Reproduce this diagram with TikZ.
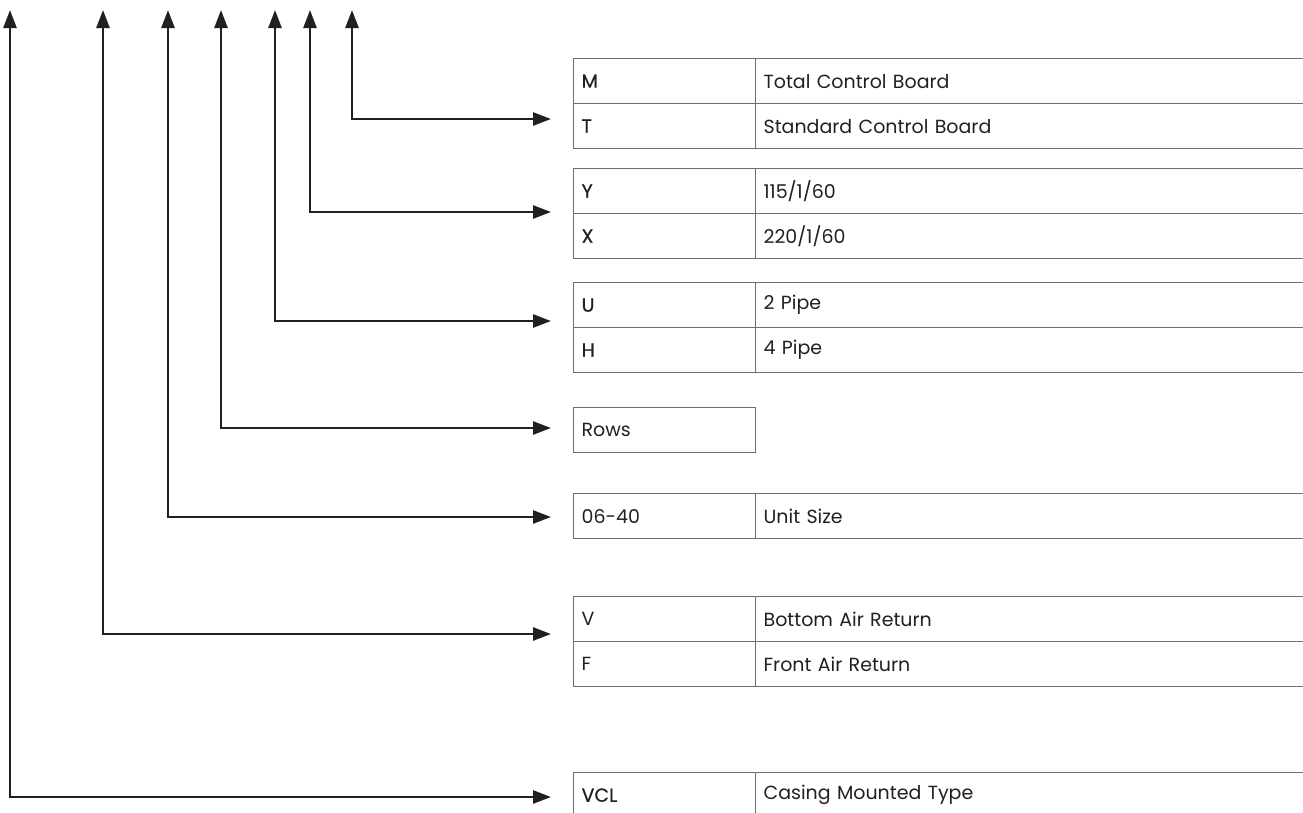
\documentclass[tikz,border=0pt]{standalone}
\usepackage{fontspec}
\setmainfont{Poppins}
\newfontfamily\medfont{Poppins}[FakeBold=0.6]
\usetikzlibrary{arrows.meta}
\definecolor{ink}{HTML}{231F20}
\definecolor{rule}{HTML}{6D6E71}
\begin{document}
\begin{tikzpicture}[x=1pt,y=-1pt,
  cell/.style={draw=rule, line width=1.2pt, anchor=north west, minimum height=45pt,
    inner xsep=8pt, inner ysep=0pt, align=left, text=ink,
    font=\fontsize{19}{22}\selectfont},
  lcell/.style={cell, text width=166pt, minimum width=182pt},
  rcell/.style={cell, text width=539pt, minimum width=555pt},
  conn/.style={draw=ink, line width=2.6pt,
    {Triangle[length=18pt,width=13pt]}-{Triangle[length=18pt,width=13pt]}}
]
\useasboundingbox (0,0) rectangle (1303,812);
% table 1
\node[lcell] (m)  at (573,58)  {\medfont M};
\node[rcell] (mt) at (755,58)  {Total Control Board};
\node[lcell] (t)  at (573,103) {\medfont T};
\node[rcell] (tt) at (755,103) {Standard Control Board};
% table 2
\node[lcell] (y)  at (573,168) {\medfont Y};
\node[rcell] (yt) at (755,168) {115/1/60};
\node[lcell] (x)  at (573,213) {\medfont X};
\node[rcell] (xt) at (755,213) {220/1/60};
% table 3
\node[lcell] (u)  at (573,282) {\medfont U};
\node[rcell] (ut) at (755,282) {2 Pipe};
\node[lcell] (h)  at (573,327) {\medfont H};
\node[rcell] (ht) at (755,327) {4 Pipe};
% rows
\node[lcell] (rows) at (573,407) {Rows};
% unit size
\node[lcell] (sz)  at (573,493) {06-40};
\node[rcell] (szt) at (755,493) {Unit Size};
% air return
\node[lcell] (v)  at (573,596) {V};
\node[rcell] (vt) at (755,596) {Bottom Air Return};
\node[lcell] (f)  at (573,641) {F};
\node[rcell] (ft) at (755,641) {Front Air Return};
% VCL
\node[lcell] (vcl)  at (573,772) {\medfont VCL};
\node[rcell] (vclt) at (755,772) {Casing Mounted Type};
% connectors
\coordinate (u1) at (352,10); \coordinate (e1) at (551,119);
\coordinate (u2) at (310,10); \coordinate (e2) at (551,212);
\coordinate (u3) at (275,10); \coordinate (e3) at (551,321);
\coordinate (u4) at (221,10); \coordinate (e4) at (551,428);
\coordinate (u5) at (168,10); \coordinate (e5) at (551,517);
\coordinate (u6) at (103,10); \coordinate (e6) at (551,634);
\coordinate (u7) at (10,10);  \coordinate (e7) at (551,797);
\foreach \i in {1,...,7} { \draw[conn] (e\i) -| (u\i); }
\end{tikzpicture}
\end{document}
